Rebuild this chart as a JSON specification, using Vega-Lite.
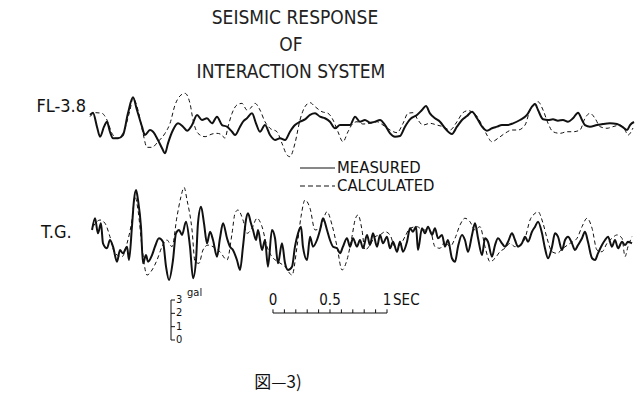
{
  "$schema": "https://vega.github.io/schema/vega-lite/v6.json",
  "width": 639,
  "height": 397,
  "padding": 0,
  "autosize": {"type": "fit", "contains": "padding"},
  "background": "white",
  "config": {"view": {"stroke": null}},
  "data": {"values": [{}]},
  "datasets": {
    "fl_m": [{"t":0,"a":0.53},{"t":0.026,"a":0.70},{"t":0.061,"a":-0.35},{"t":0.088,"a":-1.10},{"t":0.123,"a":-0.35},{"t":0.149,"a":0.02},{"t":0.175,"a":-0.73},{"t":0.202,"a":-1.22},{"t":0.246,"a":-1.22},{"t":0.289,"a":-0.98},{"t":0.333,"a":0.65},{"t":0.377,"a":1.85},{"t":0.412,"a":0.90},{"t":0.456,"a":-0.35},{"t":0.482,"a":-0.98},{"t":0.526,"a":-0.60},{"t":0.553,"a":-0.73},{"t":0.596,"a":-1.35},{"t":0.632,"a":-1.97},{"t":0.658,"a":-2.35},{"t":0.684,"a":-1.60},{"t":0.728,"a":-0.60},{"t":0.772,"a":-0.10},{"t":0.816,"a":-0.35},{"t":0.851,"a":-0.65},{"t":0.895,"a":-0.23},{"t":0.939,"a":0.53},{"t":0.982,"a":0.15},{"t":1.026,"a":0.28},{"t":1.070,"a":-0.10},{"t":1.114,"a":0.40},{"t":1.158,"a":-0.23},{"t":1.202,"a":-0.35},{"t":1.246,"a":-0.73},{"t":1.272,"a":-0.98},{"t":1.316,"a":-0.35},{"t":1.342,"a":0.02},{"t":1.377,"a":0.28},{"t":1.421,"a":0.65},{"t":1.456,"a":-0.10},{"t":1.491,"a":-0.73},{"t":1.535,"a":-0.23},{"t":1.579,"a":-0.98},{"t":1.623,"a":-1.35},{"t":1.667,"a":-1.22},{"t":1.711,"a":-1.35},{"t":1.754,"a":-0.73},{"t":1.798,"a":-0.23},{"t":1.842,"a":0.02},{"t":1.886,"a":0.20},{"t":1.930,"a":0.53},{"t":1.974,"a":0.65},{"t":2.018,"a":0.40},{"t":2.061,"a":0.28},{"t":2.105,"a":0.02},{"t":2.149,"a":-0.47},{"t":2.193,"a":-0.23},{"t":2.237,"a":-0.23},{"t":2.281,"a":-0.23},{"t":2.325,"a":0.40},{"t":2.368,"a":0.02},{"t":2.412,"a":0.15},{"t":2.456,"a":-0.05},{"t":2.500,"a":0.02},{"t":2.544,"a":0.15},{"t":2.588,"a":-0.23},{"t":2.632,"a":-0.85},{"t":2.675,"a":-1.10},{"t":2.719,"a":-1.05},{"t":2.763,"a":-0.35},{"t":2.807,"a":0.20},{"t":2.868,"a":0.53},{"t":2.912,"a":0.90},{"t":2.947,"a":1.20},{"t":2.982,"a":0.65},{"t":3.026,"a":0.28},{"t":3.070,"a":0.02},{"t":3.114,"a":-0.47},{"t":3.175,"a":-0.90},{"t":3.219,"a":-0.35},{"t":3.263,"a":0.15},{"t":3.307,"a":0.45},{"t":3.351,"a":0.77},{"t":3.395,"a":0.28},{"t":3.439,"a":-0.35},{"t":3.482,"a":-0.65},{"t":3.526,"a":-0.47},{"t":3.570,"a":-0.35},{"t":3.614,"a":-0.23},{"t":3.658,"a":-0.23},{"t":3.711,"a":-0.10},{"t":3.772,"a":0.15},{"t":3.833,"a":0.53},{"t":3.877,"a":1.15},{"t":3.904,"a":1.35},{"t":3.930,"a":0.90},{"t":3.974,"a":0.20},{"t":4.018,"a":0.15},{"t":4.061,"a":0.20},{"t":4.105,"a":0.10},{"t":4.149,"a":0.15},{"t":4.193,"a":0.02},{"t":4.237,"a":0.28},{"t":4.281,"a":0.70},{"t":4.316,"a":0.15},{"t":4.342,"a":-0.23},{"t":4.386,"a":-0.35},{"t":4.447,"a":-0.23},{"t":4.500,"a":-0.15},{"t":4.561,"a":-0.10},{"t":4.623,"a":-0.15},{"t":4.667,"a":-0.35},{"t":4.711,"a":-0.60},{"t":4.737,"a":-0.23},{"t":4.772,"a":0.00}],
    "fl_c": [{"t":0,"a":0.40},{"t":0.044,"a":0.70},{"t":0.105,"a":0.65},{"t":0.149,"a":0.15},{"t":0.193,"a":-0.85},{"t":0.237,"a":-1.22},{"t":0.289,"a":-0.85},{"t":0.351,"a":0.90},{"t":0.377,"a":1.78},{"t":0.421,"a":0.90},{"t":0.465,"a":-0.85},{"t":0.500,"a":-1.90},{"t":0.544,"a":-1.90},{"t":0.596,"a":-1.48},{"t":0.658,"a":-0.85},{"t":0.702,"a":-0.10},{"t":0.746,"a":1.28},{"t":0.789,"a":1.95},{"t":0.833,"a":2.15},{"t":0.877,"a":1.40},{"t":0.904,"a":0.15},{"t":0.947,"a":-0.85},{"t":1.009,"a":-1.10},{"t":1.070,"a":-0.90},{"t":1.114,"a":-0.85},{"t":1.158,"a":-0.98},{"t":1.184,"a":-1.22},{"t":1.211,"a":-0.35},{"t":1.246,"a":0.65},{"t":1.289,"a":1.28},{"t":1.333,"a":1.40},{"t":1.377,"a":0.90},{"t":1.421,"a":1.15},{"t":1.447,"a":1.40},{"t":1.491,"a":0.90},{"t":1.535,"a":0.02},{"t":1.579,"a":-0.47},{"t":1.640,"a":-0.73},{"t":1.684,"a":-1.60},{"t":1.728,"a":-2.48},{"t":1.754,"a":-2.60},{"t":1.798,"a":-1.60},{"t":1.842,"a":0.15},{"t":1.886,"a":1.15},{"t":1.930,"a":1.45},{"t":1.974,"a":1.15},{"t":2.035,"a":0.77},{"t":2.088,"a":0.65},{"t":2.132,"a":0.15},{"t":2.175,"a":-0.73},{"t":2.219,"a":-1.48},{"t":2.263,"a":-0.73},{"t":2.307,"a":-0.10},{"t":2.342,"a":0.02},{"t":2.395,"a":-0.15},{"t":2.456,"a":-0.10},{"t":2.518,"a":0.02},{"t":2.570,"a":-0.23},{"t":2.632,"a":-0.60},{"t":2.693,"a":-0.80},{"t":2.746,"a":-0.10},{"t":2.789,"a":0.65},{"t":2.833,"a":0.70},{"t":2.877,"a":0.15},{"t":2.921,"a":-0.23},{"t":2.982,"a":-0.10},{"t":3.044,"a":-0.23},{"t":3.096,"a":-0.35},{"t":3.158,"a":-0.60},{"t":3.219,"a":0.02},{"t":3.272,"a":0.70},{"t":3.316,"a":0.85},{"t":3.377,"a":0.60},{"t":3.439,"a":-0.23},{"t":3.482,"a":-0.98},{"t":3.526,"a":-1.48},{"t":3.579,"a":-1.22},{"t":3.640,"a":-0.85},{"t":3.702,"a":-0.60},{"t":3.754,"a":-0.60},{"t":3.816,"a":-0.23},{"t":3.860,"a":0.90},{"t":3.904,"a":1.40},{"t":3.930,"a":1.52},{"t":3.974,"a":0.90},{"t":4.018,"a":-0.10},{"t":4.061,"a":-0.73},{"t":4.123,"a":-0.85},{"t":4.184,"a":-0.73},{"t":4.237,"a":-0.73},{"t":4.298,"a":-0.60},{"t":4.342,"a":0.28},{"t":4.386,"a":0.65},{"t":4.430,"a":0.28},{"t":4.474,"a":-0.35},{"t":4.535,"a":-0.47},{"t":4.588,"a":-0.35},{"t":4.649,"a":-0.23},{"t":4.693,"a":-0.60},{"t":4.719,"a":-0.98},{"t":4.763,"a":-0.45}],
    "tg_m": [{"t":0.018,"a":0.75},{"t":0.044,"a":1.63},{"t":0.070,"a":0.50},{"t":0.096,"a":1.25},{"t":0.114,"a":-0.25},{"t":0.149,"a":-0.62},{"t":0.175,"a":0.00},{"t":0.202,"a":-0.50},{"t":0.237,"a":-1.63},{"t":0.263,"a":-0.75},{"t":0.289,"a":-1.00},{"t":0.325,"a":-0.50},{"t":0.342,"a":-1.50},{"t":0.368,"a":1.00},{"t":0.386,"a":3.00},{"t":0.404,"a":3.75},{"t":0.421,"a":3.00},{"t":0.447,"a":1.00},{"t":0.465,"a":-1.75},{"t":0.491,"a":-1.13},{"t":0.509,"a":-1.63},{"t":0.544,"a":-1.13},{"t":0.570,"a":-0.50},{"t":0.605,"a":0.13},{"t":0.640,"a":-0.13},{"t":0.667,"a":-2.00},{"t":0.693,"a":-3.00},{"t":0.728,"a":-1.50},{"t":0.754,"a":0.50},{"t":0.781,"a":0.75},{"t":0.807,"a":0.38},{"t":0.842,"a":1.37},{"t":0.877,"a":-0.50},{"t":0.904,"a":-2.87},{"t":0.930,"a":-1.50},{"t":0.947,"a":1.25},{"t":0.974,"a":2.50},{"t":1.000,"a":1.25},{"t":1.026,"a":-0.25},{"t":1.053,"a":0.62},{"t":1.079,"a":0.00},{"t":1.114,"a":-1.25},{"t":1.140,"a":0.13},{"t":1.167,"a":1.25},{"t":1.202,"a":0.13},{"t":1.228,"a":-0.50},{"t":1.254,"a":-0.75},{"t":1.289,"a":-1.50},{"t":1.316,"a":-2.25},{"t":1.342,"a":-0.50},{"t":1.368,"a":1.50},{"t":1.386,"a":2.00},{"t":1.412,"a":1.25},{"t":1.430,"a":0.75},{"t":1.456,"a":0.00},{"t":1.474,"a":0.75},{"t":1.509,"a":-0.75},{"t":1.535,"a":0.00},{"t":1.561,"a":-2.00},{"t":1.596,"a":0.75},{"t":1.623,"a":0.13},{"t":1.649,"a":-1.75},{"t":1.684,"a":-0.25},{"t":1.711,"a":-1.75},{"t":1.737,"a":-2.25},{"t":1.772,"a":-2.00},{"t":1.798,"a":-0.50},{"t":1.825,"a":0.50},{"t":1.851,"a":1.00},{"t":1.868,"a":-0.50},{"t":1.904,"a":-1.50},{"t":1.930,"a":0.25},{"t":1.956,"a":-0.50},{"t":1.991,"a":0.00},{"t":2.018,"a":0.75},{"t":2.044,"a":1.63},{"t":2.079,"a":0.75},{"t":2.105,"a":0.00},{"t":2.132,"a":-0.50},{"t":2.167,"a":-0.62},{"t":2.193,"a":-1.00},{"t":2.219,"a":-0.50},{"t":2.254,"a":0.13},{"t":2.281,"a":-0.50},{"t":2.307,"a":0.13},{"t":2.342,"a":-0.50},{"t":2.368,"a":0.00},{"t":2.395,"a":-0.62},{"t":2.430,"a":0.38},{"t":2.456,"a":-0.38},{"t":2.482,"a":0.50},{"t":2.518,"a":-0.50},{"t":2.544,"a":0.38},{"t":2.570,"a":-0.25},{"t":2.605,"a":0.25},{"t":2.632,"a":-0.62},{"t":2.658,"a":-0.13},{"t":2.693,"a":-0.88},{"t":2.719,"a":-0.13},{"t":2.746,"a":-0.88},{"t":2.781,"a":-0.13},{"t":2.807,"a":0.88},{"t":2.833,"a":0.62},{"t":2.860,"a":1.00},{"t":2.877,"a":-0.75},{"t":2.912,"a":0.88},{"t":2.939,"a":0.50},{"t":2.965,"a":1.00},{"t":3.000,"a":0.38},{"t":3.026,"a":0.88},{"t":3.053,"a":0.13},{"t":3.088,"a":0.38},{"t":3.114,"a":-0.50},{"t":3.140,"a":0.00},{"t":3.175,"a":-1.37},{"t":3.202,"a":-1.63},{"t":3.228,"a":-0.50},{"t":3.263,"a":0.38},{"t":3.289,"a":0.00},{"t":3.316,"a":-0.88},{"t":3.351,"a":0.38},{"t":3.377,"a":1.25},{"t":3.404,"a":0.13},{"t":3.439,"a":-1.13},{"t":3.465,"a":0.13},{"t":3.491,"a":-0.13},{"t":3.526,"a":-1.25},{"t":3.553,"a":-0.38},{"t":3.579,"a":0.13},{"t":3.614,"a":-0.25},{"t":3.640,"a":-0.50},{"t":3.667,"a":-0.13},{"t":3.702,"a":0.50},{"t":3.728,"a":0.00},{"t":3.754,"a":-0.50},{"t":3.789,"a":-0.25},{"t":3.816,"a":0.25},{"t":3.842,"a":-0.13},{"t":3.877,"a":0.62},{"t":3.904,"a":1.00},{"t":3.930,"a":1.37},{"t":3.965,"a":0.50},{"t":3.991,"a":-0.62},{"t":4.018,"a":-1.37},{"t":4.053,"a":-0.50},{"t":4.079,"a":0.50},{"t":4.105,"a":0.25},{"t":4.140,"a":-0.75},{"t":4.167,"a":0.00},{"t":4.193,"a":0.25},{"t":4.228,"a":-0.25},{"t":4.254,"a":-0.75},{"t":4.281,"a":-0.38},{"t":4.316,"a":0.13},{"t":4.342,"a":0.62},{"t":4.368,"a":-0.13},{"t":4.404,"a":-1.37},{"t":4.430,"a":-1.50},{"t":4.456,"a":-1.00},{"t":4.491,"a":-0.38},{"t":4.518,"a":0.00},{"t":4.544,"a":0.25},{"t":4.579,"a":-0.50},{"t":4.605,"a":0.00},{"t":4.632,"a":-0.62},{"t":4.667,"a":-0.13},{"t":4.693,"a":-0.38},{"t":4.719,"a":-0.13},{"t":4.754,"a":-0.25}],
    "tg_c": [{"t":0.026,"a":1.00},{"t":0.088,"a":1.50},{"t":0.132,"a":1.25},{"t":0.175,"a":0.25},{"t":0.219,"a":-1.00},{"t":0.281,"a":-1.25},{"t":0.325,"a":-0.25},{"t":0.368,"a":1.50},{"t":0.395,"a":3.25},{"t":0.421,"a":2.25},{"t":0.456,"a":-0.50},{"t":0.500,"a":-2.63},{"t":0.544,"a":-2.25},{"t":0.588,"a":-1.50},{"t":0.632,"a":-0.50},{"t":0.675,"a":0.00},{"t":0.719,"a":-0.50},{"t":0.763,"a":1.75},{"t":0.798,"a":3.25},{"t":0.825,"a":3.95},{"t":0.851,"a":3.00},{"t":0.895,"a":0.75},{"t":0.921,"a":-1.63},{"t":0.956,"a":-1.75},{"t":0.991,"a":-0.75},{"t":1.035,"a":-0.38},{"t":1.079,"a":-0.50},{"t":1.140,"a":-0.88},{"t":1.202,"a":-1.50},{"t":1.246,"a":0.50},{"t":1.272,"a":2.00},{"t":1.298,"a":2.25},{"t":1.342,"a":1.50},{"t":1.377,"a":0.50},{"t":1.421,"a":0.88},{"t":1.465,"a":1.63},{"t":1.509,"a":1.00},{"t":1.553,"a":-0.50},{"t":1.596,"a":-1.25},{"t":1.649,"a":-1.63},{"t":1.711,"a":-2.00},{"t":1.772,"a":-2.63},{"t":1.816,"a":-0.50},{"t":1.851,"a":1.75},{"t":1.886,"a":3.00},{"t":1.930,"a":2.38},{"t":1.974,"a":0.75},{"t":2.018,"a":0.88},{"t":2.079,"a":2.12},{"t":2.123,"a":1.13},{"t":2.167,"a":-0.50},{"t":2.211,"a":-2.25},{"t":2.254,"a":-1.50},{"t":2.298,"a":0.25},{"t":2.325,"a":1.50},{"t":2.351,"a":1.88},{"t":2.386,"a":0.75},{"t":2.412,"a":-0.75},{"t":2.456,"a":-0.38},{"t":2.500,"a":0.25},{"t":2.544,"a":0.38},{"t":2.588,"a":0.62},{"t":2.632,"a":0.38},{"t":2.675,"a":-0.50},{"t":2.719,"a":-0.38},{"t":2.763,"a":0.25},{"t":2.807,"a":0.88},{"t":2.868,"a":1.00},{"t":2.921,"a":0.75},{"t":2.982,"a":0.75},{"t":3.026,"a":-0.50},{"t":3.070,"a":-0.62},{"t":3.114,"a":-0.13},{"t":3.158,"a":-0.50},{"t":3.202,"a":0.13},{"t":3.246,"a":1.13},{"t":3.289,"a":1.63},{"t":3.333,"a":1.37},{"t":3.377,"a":0.75},{"t":3.421,"a":1.00},{"t":3.465,"a":-0.50},{"t":3.509,"a":-1.63},{"t":3.553,"a":-1.37},{"t":3.596,"a":-0.88},{"t":3.640,"a":-0.62},{"t":3.684,"a":-0.25},{"t":3.728,"a":-0.50},{"t":3.772,"a":-0.38},{"t":3.816,"a":0.13},{"t":3.860,"a":1.50},{"t":3.904,"a":2.00},{"t":3.930,"a":2.12},{"t":3.974,"a":1.25},{"t":4.009,"a":0.13},{"t":4.053,"a":-0.88},{"t":4.096,"a":-1.00},{"t":4.149,"a":-0.62},{"t":4.211,"a":-0.25},{"t":4.272,"a":0.13},{"t":4.316,"a":1.00},{"t":4.360,"a":1.63},{"t":4.404,"a":0.88},{"t":4.447,"a":-0.75},{"t":4.491,"a":-0.88},{"t":4.535,"a":-0.25},{"t":4.579,"a":0.13},{"t":4.623,"a":0.38},{"t":4.667,"a":0.13},{"t":4.693,"a":-1.25},{"t":4.719,"a":-0.50},{"t":4.754,"a":0.25}],
    "sbar": [{"s":0},{"s":0.1},{"s":0.2},{"s":0.3},{"s":0.4},{"s":0.5},{"s":0.6},{"s":0.7},{"s":0.8},{"s":0.9},{"s":1}],
    "gbar": [{"g":0},{"g":1},{"g":2},{"g":3}]
  },
  "layer": [
    {
      "layer": [
        {"data": {"name": "fl_m"}, "mark": {"type": "line", "color": "#111", "strokeWidth": 2, "interpolate": "monotone"},
         "encoding": {"x": {"field": "t", "type": "quantitative", "scale": {"domain": [-0.7895, 4.8158], "nice": false, "zero": false}, "axis": null},
                      "y": {"field": "a", "type": "quantitative", "scale": {"domain": [-20.625, 9.15], "nice": false, "zero": false}, "axis": null}}},
        {"data": {"name": "fl_c"}, "mark": {"type": "line", "color": "#111", "strokeWidth": 1, "strokeDash": [4, 3], "interpolate": "monotone"},
         "encoding": {"x": {"field": "t", "type": "quantitative", "scale": {"domain": [-0.7895, 4.8158], "nice": false, "zero": false}, "axis": null},
                      "y": {"field": "a", "type": "quantitative", "scale": {"domain": [-20.625, 9.15], "nice": false, "zero": false}, "axis": null}}},
        {"mark": {"type": "text", "font": "DejaVu Sans Condensed, sans-serif", "fontSize": 19, "fill": "#222", "align": "center", "baseline": "middle"},
         "encoding": {"x": {"datum": 1.798, "type": "quantitative", "scale": {"domain": [-0.7895, 4.8158], "nice": false, "zero": false}, "axis": null},
                      "y": {"datum": 7.8, "type": "quantitative", "scale": {"domain": [-20.625, 9.15], "nice": false, "zero": false}, "axis": null},
                      "text": {"value": "SEISMIC RESPONSE"}}},
        {"mark": {"type": "text", "font": "DejaVu Sans Condensed, sans-serif", "fontSize": 19, "fill": "#222", "align": "center", "baseline": "middle"},
         "encoding": {"x": {"datum": 1.763, "type": "quantitative", "scale": {"domain": [-0.7895, 4.8158], "nice": false, "zero": false}, "axis": null},
                      "y": {"datum": 5.775, "type": "quantitative", "scale": {"domain": [-20.625, 9.15], "nice": false, "zero": false}, "axis": null},
                      "text": {"value": "OF"}}},
        {"mark": {"type": "text", "font": "DejaVu Sans Condensed, sans-serif", "fontSize": 19, "fill": "#222", "align": "center", "baseline": "middle"},
         "encoding": {"x": {"datum": 1.763, "type": "quantitative", "scale": {"domain": [-0.7895, 4.8158], "nice": false, "zero": false}, "axis": null},
                      "y": {"datum": 3.75, "type": "quantitative", "scale": {"domain": [-20.625, 9.15], "nice": false, "zero": false}, "axis": null},
                      "text": {"value": "INTERACTION SYSTEM"}}},
        {"mark": {"type": "text", "font": "DejaVu Sans Condensed, sans-serif", "fontSize": 18, "fill": "#111", "align": "right", "baseline": "middle"},
         "encoding": {"x": {"datum": -0.035, "type": "quantitative", "scale": {"domain": [-0.7895, 4.8158], "nice": false, "zero": false}, "axis": null},
                      "y": {"datum": 1.1, "type": "quantitative", "scale": {"domain": [-20.625, 9.15], "nice": false, "zero": false}, "axis": null},
                      "text": {"value": "FL-3.8"}}}
      ]
    },
    {
      "layer": [
        {"data": {"name": "tg_m"}, "mark": {"type": "line", "color": "#111", "strokeWidth": 2, "interpolate": "monotone"},
         "encoding": {"x": {"field": "t", "type": "quantitative", "scale": {"domain": [-0.7895, 4.8158], "nice": false, "zero": false}, "axis": null},
                      "y": {"field": "a", "type": "quantitative", "scale": {"domain": [-11.775, 18.0], "nice": false, "zero": false}, "axis": null}}},
        {"data": {"name": "tg_c"}, "mark": {"type": "line", "color": "#111", "strokeWidth": 1, "strokeDash": [4, 3], "interpolate": "monotone"},
         "encoding": {"x": {"field": "t", "type": "quantitative", "scale": {"domain": [-0.7895, 4.8158], "nice": false, "zero": false}, "axis": null},
                      "y": {"field": "a", "type": "quantitative", "scale": {"domain": [-11.775, 18.0], "nice": false, "zero": false}, "axis": null}}},
        {"mark": {"type": "text", "font": "DejaVu Sans Condensed, sans-serif", "fontSize": 18, "fill": "#111", "align": "left", "baseline": "middle"},
         "encoding": {"x": {"datum": -0.43, "type": "quantitative", "scale": {"domain": [-0.7895, 4.8158], "nice": false, "zero": false}, "axis": null},
                      "y": {"datum": 0.525, "type": "quantitative", "scale": {"domain": [-11.775, 18.0], "nice": false, "zero": false}, "axis": null},
                      "text": {"value": "T.G."}}},
        {"mark": {"type": "rule", "color": "#111", "strokeWidth": 1},
         "encoding": {"x": {"datum": 1.842, "type": "quantitative", "scale": {"domain": [-0.7895, 4.8158], "nice": false, "zero": false}, "axis": null},
                      "x2": {"datum": 2.149},
                      "y": {"datum": 5.4, "type": "quantitative", "scale": {"domain": [-11.775, 18.0], "nice": false, "zero": false}, "axis": null}}},
        {"mark": {"type": "rule", "color": "#111", "strokeWidth": 1, "strokeDash": [5, 3]},
         "encoding": {"x": {"datum": 1.842, "type": "quantitative", "scale": {"domain": [-0.7895, 4.8158], "nice": false, "zero": false}, "axis": null},
                      "x2": {"datum": 2.149},
                      "y": {"datum": 4.05, "type": "quantitative", "scale": {"domain": [-11.775, 18.0], "nice": false, "zero": false}, "axis": null}}},
        {"mark": {"type": "text", "font": "DejaVu Sans Condensed, sans-serif", "fontSize": 16.5, "fill": "#111", "align": "left", "baseline": "middle"},
         "encoding": {"x": {"datum": 2.167, "type": "quantitative", "scale": {"domain": [-0.7895, 4.8158], "nice": false, "zero": false}, "axis": null},
                      "y": {"datum": 5.4, "type": "quantitative", "scale": {"domain": [-11.775, 18.0], "nice": false, "zero": false}, "axis": null},
                      "text": {"value": "MEASURED"}}},
        {"mark": {"type": "text", "font": "DejaVu Sans Condensed, sans-serif", "fontSize": 16.5, "fill": "#111", "align": "left", "baseline": "middle"},
         "encoding": {"x": {"datum": 2.167, "type": "quantitative", "scale": {"domain": [-0.7895, 4.8158], "nice": false, "zero": false}, "axis": null},
                      "y": {"datum": 4.05, "type": "quantitative", "scale": {"domain": [-11.775, 18.0], "nice": false, "zero": false}, "axis": null},
                      "text": {"value": "CALCULATED"}}}
      ]
    },
    {
      "layer": [
        {"mark": {"type": "rule", "color": "#111", "strokeWidth": 1},
         "encoding": {"x": {"datum": 0, "type": "quantitative", "scale": {"domain": [-2.3947, 3.2105], "nice": false, "zero": false}, "axis": null},
                      "x2": {"datum": 1},
                      "y": {"datum": 2.025, "type": "quantitative", "scale": {"domain": [-4.275, 25.5], "nice": false, "zero": false}, "axis": null}}},
        {"data": {"name": "sbar"}, "mark": {"type": "rule", "color": "#111", "strokeWidth": 1},
         "encoding": {"x": {"field": "s", "type": "quantitative", "scale": {"domain": [-2.3947, 3.2105], "nice": false, "zero": false}, "axis": null},
                      "y": {"datum": 2.025, "type": "quantitative", "scale": {"domain": [-4.275, 25.5], "nice": false, "zero": false}, "axis": null},
                      "y2": {"datum": 2.3}}},
        {"data": {"name": "sbar"}, "transform": [{"filter": {"field": "s", "oneOf": [0, 0.5, 1]}}],
         "mark": {"type": "text", "font": "DejaVu Sans Condensed, sans-serif", "fontSize": 15, "fill": "#111", "align": "center", "baseline": "middle"},
         "encoding": {"x": {"field": "s", "type": "quantitative", "scale": {"domain": [-2.3947, 3.2105], "nice": false, "zero": false}, "axis": null},
                      "y": {"datum": 3.0, "type": "quantitative", "scale": {"domain": [-4.275, 25.5], "nice": false, "zero": false}, "axis": null},
                      "text": {"field": "s", "type": "quantitative", "format": "~g"}}},
        {"mark": {"type": "text", "font": "DejaVu Sans Condensed, sans-serif", "fontSize": 15, "fill": "#111", "align": "left", "baseline": "middle"},
         "encoding": {"x": {"datum": 1.053, "type": "quantitative", "scale": {"domain": [-2.3947, 3.2105], "nice": false, "zero": false}, "axis": null},
                      "y": {"datum": 3.0, "type": "quantitative", "scale": {"domain": [-4.275, 25.5], "nice": false, "zero": false}, "axis": null},
                      "text": {"value": "SEC"}}},
        {"mark": {"type": "rule", "color": "#111", "strokeWidth": 1},
         "encoding": {"x": {"datum": -0.8947, "type": "quantitative", "scale": {"domain": [-2.3947, 3.2105], "nice": false, "zero": false}, "axis": null},
                      "y": {"datum": 0, "type": "quantitative", "scale": {"domain": [-4.275, 25.5], "nice": false, "zero": false}, "axis": null},
                      "y2": {"datum": 3}}},
        {"data": {"name": "gbar"}, "mark": {"type": "rule", "color": "#111", "strokeWidth": 1},
         "encoding": {"x": {"datum": -0.8947, "type": "quantitative", "scale": {"domain": [-2.3947, 3.2105], "nice": false, "zero": false}, "axis": null},
                      "x2": {"datum": -0.8596},
                      "y": {"field": "g", "type": "quantitative", "scale": {"domain": [-4.275, 25.5], "nice": false, "zero": false}, "axis": null}}},
        {"data": {"name": "gbar"}, "mark": {"type": "text", "font": "DejaVu Sans Condensed, sans-serif", "fontSize": 11, "fill": "#111", "align": "left", "baseline": "middle"},
         "encoding": {"x": {"datum": -0.851, "type": "quantitative", "scale": {"domain": [-2.3947, 3.2105], "nice": false, "zero": false}, "axis": null},
                      "y": {"field": "g", "type": "quantitative", "scale": {"domain": [-4.275, 25.5], "nice": false, "zero": false}, "axis": null},
                      "text": {"field": "g", "type": "quantitative"}}},
        {"mark": {"type": "text", "font": "DejaVu Sans Condensed, sans-serif", "fontSize": 11, "fill": "#111", "align": "left", "baseline": "middle"},
         "encoding": {"x": {"datum": -0.754, "type": "quantitative", "scale": {"domain": [-2.3947, 3.2105], "nice": false, "zero": false}, "axis": null},
                      "y": {"datum": 3.525, "type": "quantitative", "scale": {"domain": [-4.275, 25.5], "nice": false, "zero": false}, "axis": null},
                      "text": {"value": "gal"}}},
        {"mark": {"type": "text", "font": "Noto Sans CJK JP", "fontSize": 17, "fill": "#111", "align": "center", "baseline": "middle"},
         "encoding": {"x": {"datum": 0.044, "type": "quantitative", "scale": {"domain": [-2.3947, 3.2105], "nice": false, "zero": false}, "axis": null},
                      "y": {"datum": -3.225, "type": "quantitative", "scale": {"domain": [-4.275, 25.5], "nice": false, "zero": false}, "axis": null},
                      "text": {"value": "図—3)"}}}
      ],
      "resolve": {"scale": {"x": "shared", "y": "shared"}}
    }
  ],
  "resolve": {"scale": {"x": "independent", "y": "independent"}}
}
